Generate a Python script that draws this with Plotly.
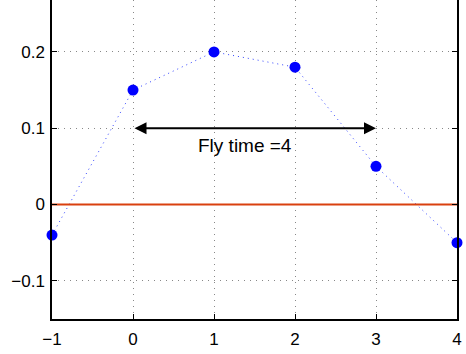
import plotly.graph_objects as go

x_vals = [-1, 0, 1, 2, 3, 4]
y_vals = [-0.04, 0.15, 0.20, 0.18, 0.05, -0.05]
x_ticks = [-1, 0, 1, 2, 3, 4]
x_tick_text = ["\u22121", "0", "1", "2", "3", "4"]
y_ticks = [-0.1, 0, 0.1, 0.2]
y_tick_text = ["\u22120.1", "0", "0.1", "0.2"]
ref_line_y = 0
arrow_x = [0, 3]
arrow_y = 0.1
label = "Fly time =4"
label_x = 1.38
label_y = 0.077

FONT = "Liberation Sans, Arial"

fig = go.Figure()
fig.add_trace(go.Scatter(
    x=x_vals, y=y_vals, mode="lines+markers",
    line=dict(color="#3344ff", width=1, dash="1px,4px"),
    marker=dict(color="blue", size=11),
    showlegend=False, cliponaxis=False,
))
fig.add_trace(go.Scatter(
    x=[x_vals[0], x_vals[-1]], y=[ref_line_y, ref_line_y], mode="lines",
    line=dict(color="#d9400f", width=2), showlegend=False,
))
fig.add_annotation(
    x=arrow_x[1], y=arrow_y, ax=arrow_x[0], ay=arrow_y,
    xref="x", yref="y", axref="x", ayref="y",
    showarrow=True, arrowhead=2, arrowside="end+start",
    arrowsize=1.2, arrowwidth=2, arrowcolor="black", text="",
)
fig.add_annotation(
    x=label_x, y=label_y, xref="x", yref="y", text=label, showarrow=False,
    font=dict(family=FONT, size=19, color="black"),
)

axis_common = dict(
    showline=True, linecolor="black", linewidth=1.5,
    ticks="inside", ticklen=5, tickcolor="black",
    showgrid=True, gridcolor="#888888", griddash="1px,5px", gridwidth=1,
    zeroline=False,
    tickfont=dict(family=FONT, size=17, color="black"),
)
fig.update_xaxes(range=[-1, 4], tickvals=x_ticks, ticktext=x_tick_text, mirror=False,
                 ticklabelstandoff=4, **axis_common)
fig.update_yaxes(range=[-0.15, 0.268], tickvals=y_ticks, ticktext=y_tick_text, mirror="ticks",
                 ticklabelstandoff=2, **axis_common)

fig.update_layout(
    width=466, height=354,
    margin=dict(l=52, r=9, t=0, b=35),
    plot_bgcolor="white", paper_bgcolor="white",
)
fig.write_html("out.html")
